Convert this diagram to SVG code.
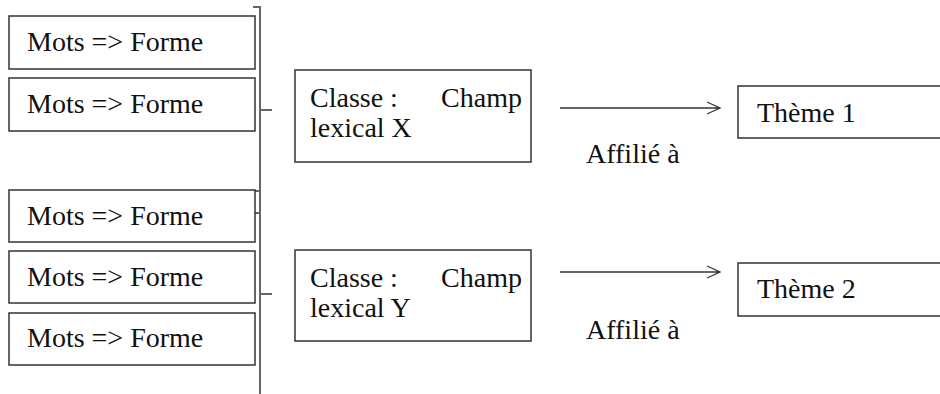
<svg xmlns="http://www.w3.org/2000/svg" width="940" height="394" viewBox="0 0 940 394">
<style>
.box{fill:#fff;stroke:#333;stroke-width:1.5}
.t{font-family:"Liberation Serif","Times New Roman",serif;font-size:28px;fill:#111}
.br{fill:none;stroke:#666;stroke-width:2}
.ar{fill:none;stroke:#333;stroke-width:1.3}
</style>
<rect width="940" height="394" fill="#fff"/>
<g id="connectors">
<path class="br" d="M253 7H260V394"/>
<path class="br" d="M260 110H272"/>
<path class="br" d="M255 191H260M253 213H260"/>
<path class="br" d="M260 294H272"/>
<path class="ar" d="M560 108H720M707 102L720 108L707 114"/>
<path class="ar" d="M560 272H720M707 266L720 272L707 278"/>
</g>
<g id="mots1"><rect class="box" x="9" y="16" width="246" height="53"/><text class="t" x="27" y="51">Mots =&gt; Forme</text></g>
<g id="mots2"><rect class="box" x="9" y="78" width="246" height="53"/><text class="t" x="27" y="113">Mots =&gt; Forme</text></g>
<g id="mots3"><rect class="box" x="9" y="190" width="246" height="52"/><text class="t" x="27" y="225">Mots =&gt; Forme</text></g>
<g id="mots4"><rect class="box" x="9" y="251" width="246" height="52"/><text class="t" x="27" y="286">Mots =&gt; Forme</text></g>
<g id="mots5"><rect class="box" x="9" y="313" width="246" height="52"/><text class="t" x="27" y="347">Mots =&gt; Forme</text></g>
<g id="classeX"><rect class="box" x="295" y="70" width="236" height="92"/><text class="t" x="310" y="107">Classe :</text><text class="t" x="522" y="107" text-anchor="end">Champ</text><text class="t" x="310" y="137">lexical X</text></g>
<g id="classeY"><rect class="box" x="295" y="250" width="236" height="91"/><text class="t" x="310" y="287">Classe :</text><text class="t" x="522" y="287" text-anchor="end">Champ</text><text class="t" x="310" y="317">lexical Y</text></g>
<g id="label1"><text class="t" x="586" y="163">Affilié à</text></g>
<g id="label2"><text class="t" x="586" y="339">Affilié à</text></g>
<g id="theme1"><rect class="box" x="738" y="86" width="300" height="52"/><text class="t" x="757" y="122">Thème 1</text></g>
<g id="theme2"><rect class="box" x="738" y="263" width="300" height="53"/><text class="t" x="757" y="298">Thème 2</text></g>
</svg>
